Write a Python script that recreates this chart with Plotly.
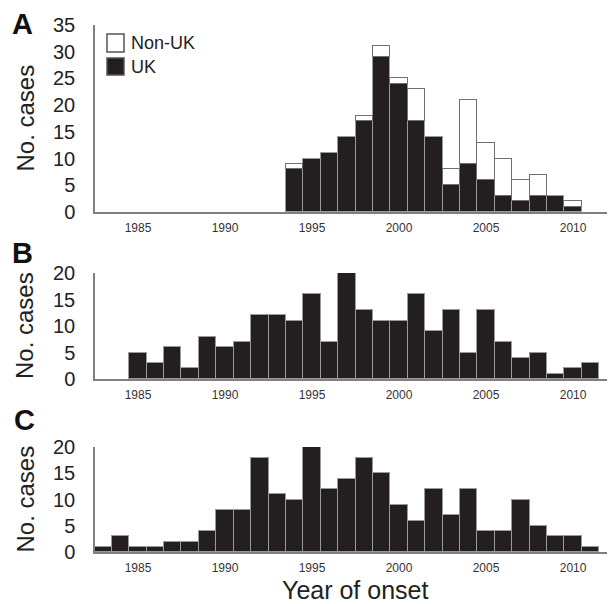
import plotly.graph_objects as go

# Panel A data
years_a = list(range(1994, 2011))
uk_a = [8, 10, 11, 14, 17, 29, 24, 17, 14, 5, 9, 6, 3, 2, 3, 3, 1]
nonuk_a = [1, 0, 0, 0, 1, 2, 1, 6, 0, 3, 12, 7, 7, 4, 4, 0, 1]

# Panel B data
years_b = list(range(1985, 2012))
cases_b = [5, 3, 6, 2, 8, 6, 7, 12, 12, 11, 16, 7, 20, 13, 11, 11, 16, 9, 13, 5, 13, 7, 4, 5, 1, 2, 3]

# Panel C data
years_c = list(range(1983, 2012))
cases_c = [1, 3, 1, 1, 2, 2, 4, 8, 8, 18, 11, 10, 20, 12, 14, 18, 15, 9, 6, 12, 7, 12, 4, 4, 10, 5, 3, 3, 1]

tick_years = [1985, 1990, 1995, 2000, 2005, 2010]
panel_letters = ["A", "B", "C"]
legend_labels = ["Non-UK", "UK"]

# page body has an 8px margin; the figure is shrunk and shifted to compensate
OFF = 8
W, H = 615 - OFF, 604 - OFF
FONT = "Liberation Sans, Arial, sans-serif"
BAR_FILL = "#231f20"
BAR_EDGE = "#9a9a9a"
AXIS_COL = "#808080"

fig = go.Figure()

def px_x(x):
    return (x - OFF) / W

def px_y(y):
    return 1 - (y - OFF) / H

# panel pixel extents in the reference (top, bottom, ymax)
panels = [(25, 212, 35), (273, 379, 20), (447, 552, 20)]
x_left, x_right = 95, 615

fig.add_trace(go.Bar(x=years_a, y=uk_a, marker=dict(color=BAR_FILL, line=dict(color=BAR_EDGE, width=1.5)),
                     width=1, xaxis="x", yaxis="y", showlegend=False, name="UK"))
fig.add_trace(go.Bar(x=years_a, y=[v if v else None for v in nonuk_a],
                     marker=dict(color="white", line=dict(color="#707070", width=1.5)),
                     width=1, xaxis="x", yaxis="y", showlegend=False, name="Non-UK"))
fig.add_trace(go.Bar(x=years_b, y=cases_b, marker=dict(color=BAR_FILL, line=dict(color=BAR_EDGE, width=1.5)),
                     width=1, xaxis="x2", yaxis="y2", showlegend=False))
fig.add_trace(go.Bar(x=years_c, y=cases_c, marker=dict(color=BAR_FILL, line=dict(color=BAR_EDGE, width=1.5)),
                     width=1, xaxis="x3", yaxis="y3", showlegend=False))

xr = [1982.53, 2012.41]
layout = dict(
    width=W, height=H, margin=dict(l=0, r=0, t=0, b=0),
    paper_bgcolor="white", plot_bgcolor="white",
    barmode="stack", bargap=0,
    font=dict(family=FONT, color="#222"),
)
for i, (top, bot, ymax) in enumerate(panels):
    sfx = "" if i == 0 else str(i + 1)
    layout["xaxis" + sfx] = dict(
        domain=[px_x(x_left), 1.0], range=xr, anchor="y" + sfx,
        tickvals=tick_years, ticktext=[str(t) for t in tick_years],
        tickfont=dict(size=12, color="#333"), showgrid=False, zeroline=False,
        showline=True, linecolor=AXIS_COL, linewidth=1.5, ticks="", ticklabelstandoff=4,
        automargin=False, fixedrange=True,
    )
    layout["yaxis" + sfx] = dict(
        domain=[px_y(bot), px_y(top)], range=[0, ymax], anchor="x" + sfx,
        tickvals=list(range(0, ymax + 1, 5)), tickfont=dict(size=20, color="#222"),
        showgrid=False, zeroline=False, showline=True, linecolor=AXIS_COL, linewidth=1.5,
        ticks="", ticklabelstandoff=14, automargin=False, fixedrange=True,
    )
fig.update_layout(**layout)

annotations = []
shapes = []
letter_pos = [(22, 24), (22, 253), (24, 420)]
for (lx, ly), letter in zip(letter_pos, panel_letters):
    annotations.append(dict(text="<b>" + letter + "</b>", x=px_x(lx), y=px_y(ly), xref="paper", yref="paper",
                            showarrow=False, font=dict(size=29, family=FONT, color="#111"),
                            xanchor="center", yanchor="middle"))
for top, bot, _ in panels:
    annotations.append(dict(text="No. cases", x=px_x(25), y=px_y((top + bot) / 2), xref="paper", yref="paper",
                            showarrow=False, textangle=-90, font=dict(size=24, family=FONT, color="#222"),
                            xanchor="center", yanchor="middle"))
annotations.append(dict(text="Year of onset", x=px_x(355), y=px_y(590), xref="paper", yref="paper",
                        showarrow=False, font=dict(size=25, family=FONT, color="#222"),
                        xanchor="center", yanchor="middle"))

# legend
leg_fill = ["white", BAR_FILL]
leg_y = [(34, 52), (58, 75)]
for (y0, y1), fc, lab in zip(leg_y, leg_fill, legend_labels):
    shapes.append(dict(type="rect", xref="paper", yref="paper", x0=px_x(107), x1=px_x(124),
                       y0=px_y(y1), y1=px_y(y0), fillcolor=fc, line=dict(color="#555", width=1.5)))
    annotations.append(dict(text=lab, x=px_x(129), y=px_y((y0 + y1) / 2), xref="paper", yref="paper",
                            showarrow=False, font=dict(size=18, family=FONT, color="#222"),
                            xanchor="left", yanchor="middle"))

fig.update_layout(annotations=annotations, shapes=shapes)
fig.write_html("out.html")
